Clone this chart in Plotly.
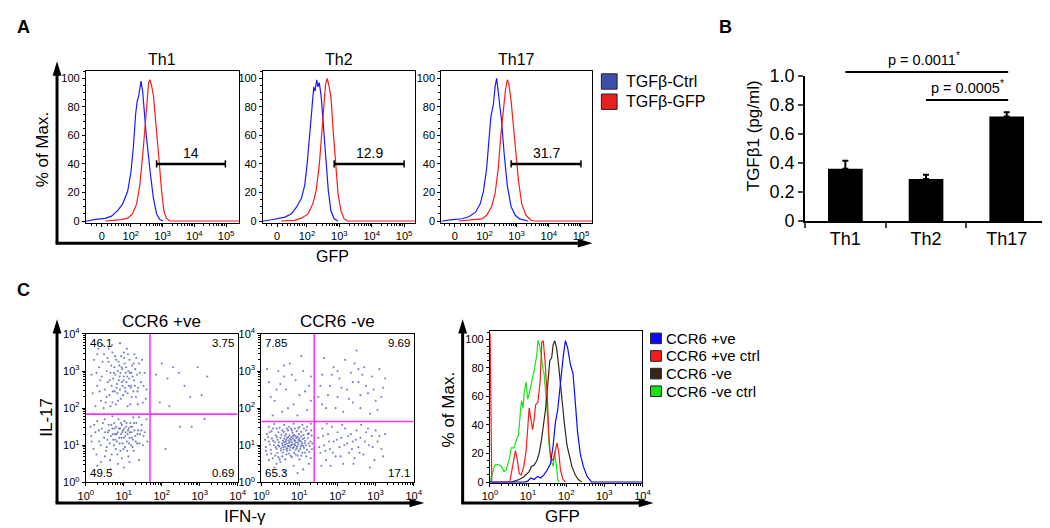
import numpy as np
import plotly.graph_objects as go

W, H = 1050, 528
FONT = "Liberation Sans, Arial, sans-serif"

# ---------------- Panel A: GFP histograms (x = decades on logicle display, y = % of max) ----------------
th1_ctrl_x = [0.58, 0.63, 0.88, 1.19, 1.39, 1.59, 1.74, 1.90, 2.00, 2.08, 2.15, 2.20, 2.25, 2.28, 2.32, 2.37, 2.41, 2.49, 2.61, 2.71, 2.81, 2.91, 3.02]
th1_ctrl_y = [0, 0, 1.1, 1.8, 3.4, 7.4, 12, 21, 34, 52, 75, 84, 88, 94, 98, 91, 80, 59, 34, 16, 5, 1.1, 0]
th1_gfp_x = [1.20, 1.70, 1.90, 2.05, 2.18, 2.28, 2.38, 2.46, 2.51, 2.56, 2.60, 2.65, 2.71, 2.79, 2.88, 2.96, 3.04, 3.12, 3.22, 5.41]
th1_gfp_y = [0, 1, 2, 5, 12, 25, 48, 70, 88, 97, 99, 95, 88, 70, 45, 23, 7, 2, 0, 0]

th2_ctrl_x = [0.64, 0.66, 0.91, 1.32, 1.52, 1.67, 1.83, 1.93, 2.01, 2.08, 2.15, 2.21, 2.25, 2.30, 2.34, 2.38, 2.44, 2.52, 2.59, 2.66, 2.74, 2.84, 2.96]
th2_ctrl_y = [0, 0, 0.9, 2.7, 5, 9.5, 16, 25, 41, 60, 80, 94, 91, 99, 94, 97, 87, 64, 41, 21, 7, 1.6, 0]
th2_gfp_x = [1.20, 1.62, 1.83, 2.03, 2.18, 2.28, 2.38, 2.46, 2.52, 2.57, 2.62, 2.67, 2.74, 2.82, 2.89, 2.96, 3.05, 3.15, 3.25, 5.34]
th2_gfp_y = [0, 0.5, 2, 5, 12, 21, 39, 60, 80, 95, 100, 96, 87, 60, 37, 19, 7, 1.5, 0, 0]

th17_ctrl_x = [0.66, 0.69, 1.00, 1.31, 1.51, 1.72, 1.87, 1.97, 2.07, 2.14, 2.20, 2.28, 2.33, 2.38, 2.43, 2.48, 2.53, 2.61, 2.71, 2.83, 2.96, 3.09, 3.35]
th17_ctrl_y = [0, 0, 1, 1.6, 3, 6, 12, 21, 37, 55, 73, 82, 94, 100, 91, 82, 71, 48, 25, 10, 4, 1.5, 0]
th17_gfp_x = [1.20, 1.72, 1.92, 2.07, 2.22, 2.33, 2.43, 2.51, 2.58, 2.65, 2.71, 2.76, 2.83, 2.92, 2.99, 3.06, 3.16, 3.29, 3.45, 3.55, 5.35]
th17_gfp_y = [0, 1, 1.5, 4, 10, 19, 37, 60, 78, 91, 99, 96, 84, 64, 46, 28, 12, 4, 0.5, 0, 0]

subsets = ["Th1", "Th2", "Th17"]
gate_start = [2.81, 2.84, 2.83]
gate_end = [4.98, 5.00, 5.00]
gate_pct = ["14", "12.9", "31.7"]
gate_level = 40

# ---------------- Panel B: TGFb1 ELISA ----------------
tgfb1_mean = [0.36, 0.29, 0.72]
tgfb1_err = [0.055, 0.028, 0.028]
sig_from = [0, 1]
sig_to = [2, 2]
sig_text = ["p = 0.0011", "p = 0.0005"]
sig_height = [1.025, 0.833]

# ---------------- Panel C: IL-17 vs IFN-g dot plots (log10 units) ----------------
pos_ul = [(0.15,2.9),(0.22,3.3),(0.3,2.6),(0.35,3.1),(0.4,2.2),(0.42,2.85),(0.48,3.45),(0.5,2.5),(0.55,3.0),(0.58,2.7),
          (0.6,3.25),(0.62,2.35),(0.65,2.95),(0.68,2.6),(0.7,3.5),(0.72,2.8),(0.75,3.1),(0.76,2.45),(0.78,2.9),(0.8,3.3),
          (0.82,2.65),(0.84,3.0),(0.85,2.2),(0.87,2.75),(0.88,3.15),(0.9,2.5),(0.91,2.95),(0.93,3.4),(0.95,2.7),(0.96,3.05),
          (0.98,2.35),(1.0,2.85),(1.02,3.2),(1.03,2.55),(1.05,2.95),(1.07,2.7),(1.08,3.6),(1.1,2.4),(1.12,3.0),(1.14,2.8),
          (1.15,3.3),(1.17,2.1),(1.19,2.6),(1.2,2.95),(1.22,3.15),(1.25,2.45),(1.27,2.75),(1.3,3.05),(1.32,2.3),(1.35,2.9),
          (1.38,2.55),(1.4,3.2),(1.45,2.7),(1.5,2.15),(1.55,2.95),(1.6,2.5),(0.25,2.05),(0.45,3.7),(0.65,2.05),(0.9,3.75),
          (1.1,2.05),(0.55,2.3),(0.3,3.45),(0.7,2.15),(1.0,3.5),(1.28,3.45),(0.6,3.6),(1.18,2.55),(0.83,2.4),(0.97,2.6),
          (0.18,2.4),(0.28,2.95),(0.33,3.6),(0.38,2.75),(0.44,3.25),(0.52,2.15),(0.57,3.35),(0.63,2.75),(0.67,3.15),(0.71,2.45),
          (0.74,2.95),(0.77,3.4),(0.81,2.55),(0.86,3.25),(0.89,2.85),(0.92,2.25),(0.94,3.1),(0.99,2.75),(1.01,3.35),(1.04,2.45),
          (1.06,3.1),(1.09,2.85),(1.11,3.45),(1.13,2.6),(1.16,2.95),(1.21,2.3),(1.23,2.85),(1.26,3.2),(1.29,2.6),(1.33,3.35),
          (1.36,2.45),(1.42,2.95),(1.48,3.3),(1.52,2.6),(1.58,2.25),(0.47,2.0),(0.79,2.1),(1.37,2.1),(0.36,2.45),(0.69,3.7)]
pos_ur = [(1.85,2.9),(2.0,3.2),(2.15,2.8),(2.3,3.1),(2.45,2.95),(2.6,2.6),(2.75,2.3),(2.95,3.1),(3.05,2.35),(1.95,2.15),
          (2.2,2.05),(3.2,2.85)]
pos_ll = [(0.12,1.5),(0.2,0.9),(0.25,1.35),(0.3,1.65),(0.35,1.1),(0.4,0.55),(0.42,1.45),(0.48,1.2),(0.5,1.7),(0.55,0.95),
          (0.58,1.35),(0.6,1.55),(0.63,1.05),(0.66,1.25),(0.68,0.75),(0.7,1.45),(0.72,1.15),(0.75,1.6),(0.77,1.3),(0.79,0.9),
          (0.8,1.5),(0.82,1.1),(0.84,1.35),(0.86,1.7),(0.88,1.2),(0.9,1.45),(0.91,0.85),(0.93,1.3),(0.95,1.55),(0.97,1.05),
          (0.98,1.4),(1.0,1.2),(1.02,1.65),(1.03,0.95),(1.05,1.35),(1.06,1.5),(1.08,1.1),(1.1,1.3),(1.12,0.7),(1.13,1.45),
          (1.15,1.2),(1.17,1.6),(1.19,1.0),(1.2,1.35),(1.22,1.5),(1.24,1.15),(1.26,0.85),(1.28,1.4),(1.3,1.25),(1.33,1.6),
          (1.35,1.05),(1.38,1.4),(1.4,0.6),(1.43,1.3),(1.47,1.55),(1.5,1.0),(1.55,1.35),(1.6,1.7),(0.85,0.5),(1.0,0.4),
          (0.65,0.35),(1.15,0.55),(0.5,0.7),(0.95,0.65),(0.3,0.45),(1.25,1.75),(0.7,1.78),(1.4,1.75),(0.15,1.1),(1.62,1.1),
          (0.14,1.25),(0.22,1.55),(0.28,0.75),(0.34,1.4),(0.39,1.0),(0.45,1.6),(0.5,1.35),(0.53,0.85),(0.57,1.15),(0.61,1.4),
          (0.64,0.6),(0.67,1.55),(0.71,1.3),(0.74,1.0),(0.76,1.45),(0.78,1.15),(0.81,1.3),(0.83,0.75),(0.87,1.45),(0.89,1.05),
          (0.92,1.6),(0.94,1.2),(0.96,1.35),(0.99,0.9),(1.01,1.45),(1.04,1.25),(1.07,1.6),(1.09,0.85),(1.11,1.4),(1.14,1.05),
          (1.16,1.35),(1.18,1.5),(1.21,1.2),(1.23,0.95),(1.27,1.6),(1.31,1.1),(1.36,1.3),(1.41,1.05),(1.46,1.4),(1.52,1.25)]
pos_lr = [(2.48,1.5),(2.79,1.5),(3.13,1.71),(2.1,0.9)]

neg_ul = [(0.2,2.7),(0.35,2.2),(0.45,3.0),(0.55,1.9),(0.65,2.5),(0.75,3.2),(0.85,2.1),(0.9,2.75),(1.0,2.35),(1.1,3.0),
          (1.2,1.95),(1.25,2.6),(0.3,1.8),(0.6,2.85),(0.95,1.8),(1.3,2.2),(0.4,2.5),(1.05,3.4),
          (0.25,2.3),(0.5,2.65),(0.7,2.0),(0.8,2.9),(1.15,2.45),(0.15,3.05),(0.6,3.15),(1.3,2.85)]
neg_ur = [(1.5,2.3),(1.6,2.9),(1.7,2.0),(1.8,2.6),(1.9,3.1),(2.0,2.3),(2.05,2.8),(2.15,1.9),(2.2,3.3),(2.25,2.5),
          (2.35,2.95),(2.4,2.15),(2.5,3.55),(2.55,2.7),(2.6,2.0),(2.7,3.1),(2.8,2.4),(2.9,2.85),(3.0,2.2),(3.1,3.05),
          (3.2,2.55),(1.65,3.35),(2.45,3.2),(2.85,1.85),(1.95,2.0),(3.05,1.95),
          (1.55,2.6),(1.75,2.35),(1.85,2.9),(2.1,2.55),(2.3,2.25),(2.4,2.7),(2.6,2.35),(2.65,2.9),(2.75,2.6),(2.95,2.5),
          (3.15,2.3),(3.25,2.8),(2.0,3.0),(2.55,3.05),(1.6,2.1)]
neg_ll = [(0.35,0.4),(0.6,0.3),(0.85,0.45),(1.1,0.35),(0.5,0.55),(0.95,0.25),(1.25,0.5),(0.2,0.6),
          (0.15,0.75),(0.3,0.65),(0.42,0.8),(0.55,0.7),(0.63,0.62),(0.72,0.78),(0.8,0.68),(0.9,0.75),(1.0,0.62),(1.08,0.8),
          (1.18,0.7),(1.3,0.65),(0.48,0.62),(0.68,0.85),(0.98,0.85),
          (0.12,0.95),(0.25,0.88),(0.33,1.0),(0.4,0.9),(0.47,0.97),(0.52,0.86),(0.58,0.95),(0.62,1.02),(0.66,0.9),(0.7,0.98),
          (0.75,0.87),(0.78,1.0),(0.83,0.92),(0.87,1.03),(0.9,0.88),(0.94,0.97),(1.02,0.9),(1.06,1.0),(1.12,0.93),(1.2,0.88),
          (1.27,0.98),(1.33,0.9),(0.55,1.05),(0.73,1.06),(0.96,1.07),
          (0.1,1.15),(0.2,1.1),(0.28,1.18),(0.36,1.08),(0.43,1.15),(0.5,1.2),(0.57,1.12),(0.6,1.18),(0.64,1.1),(0.68,1.2),
          (0.71,1.13),(0.76,1.17),(0.8,1.08),(0.84,1.19),(0.88,1.12),(0.92,1.2),(0.97,1.14),(1.0,1.18),(1.04,1.1),(1.09,1.17),
          (1.15,1.12),(1.22,1.19),(1.29,1.1),(0.46,1.08),(0.79,1.22),(1.13,1.2),
          (0.15,1.3),(0.27,1.38),(0.38,1.27),(0.45,1.35),(0.53,1.28),(0.59,1.36),(0.65,1.3),(0.7,1.4),(0.74,1.27),(0.82,1.34),
          (0.86,1.28),(0.93,1.38),(0.99,1.3),(1.05,1.36),(1.11,1.28),(1.18,1.4),(1.25,1.32),(1.32,1.26),(0.62,1.25),(0.9,1.25),
          (0.2,1.5),(0.34,1.57),(0.48,1.47),(0.6,1.55),(0.72,1.5),(0.85,1.58),(0.97,1.46),(1.08,1.55),(1.2,1.5),(1.3,1.58),
          (0.4,1.45),(0.78,1.45),
          (0.52,0.92),(0.56,1.0),(0.59,0.88),(0.61,1.08),(0.63,0.96),(0.65,1.15),(0.67,1.04),(0.69,0.92),(0.71,1.22),(0.73,0.98),
          (0.75,1.1),(0.77,0.94),(0.79,1.15),(0.81,1.02),(0.83,1.25),(0.85,0.95),(0.87,1.14),(0.89,1.0),(0.91,1.08),(0.93,0.92),
          (0.95,1.22),(0.98,1.02),(1.01,1.12),(1.03,0.96),(1.05,1.24),(1.07,1.05),(1.1,0.98),(1.14,1.06),(1.17,1.0),(1.24,1.05),
          (0.44,1.0),(0.41,1.22),(0.38,0.95),(0.31,1.12),(0.23,1.02),(0.18,1.22),(0.26,0.78),(0.37,0.72),(0.45,0.68),(0.57,0.8),
          (0.66,0.75),(0.77,0.72),(0.86,0.8),(0.95,0.72),(1.05,0.72),(1.15,0.8),(1.26,0.82),(1.34,1.05),(1.31,1.4),(1.22,1.3),
          (0.55,1.4),(0.67,1.45),(0.8,1.4),(0.88,1.45),(1.0,1.5),(1.12,1.45),(0.31,1.45),(0.22,1.35),(0.12,0.85),(0.4,0.5)]
neg_lr = [(1.5,1.2),(1.55,0.8),(1.6,1.45),(1.65,1.0),(1.7,0.6),(1.75,1.3),(1.8,0.9),(1.85,1.5),(1.9,1.1),(1.95,0.7),
          (2.0,1.35),(2.05,0.95),(2.1,1.2),(2.15,0.5),(2.2,1.45),(2.25,1.05),(2.3,0.8),(2.35,1.3),(2.4,1.1),(2.45,0.65),
          (2.5,1.4),(2.55,0.95),(2.6,1.2),(2.68,0.75),(2.75,1.35),(2.82,1.0),(2.9,1.25),(2.97,0.6),(3.05,1.1),(3.15,0.9),
          (3.25,1.3),(1.58,0.45),(2.12,1.55),(2.62,1.55),(1.72,1.58),(2.85,0.4),
          (1.52,0.95),(1.62,1.25),(1.68,0.85),(1.78,1.1),(1.88,0.8),(1.98,1.15),(2.08,0.7),(2.18,1.0),(2.28,1.25),(2.38,0.9),
          (2.48,1.15),(2.58,0.8),(2.72,1.1),(2.8,1.45),(2.92,0.95),(3.0,1.4),(3.1,1.25),(3.2,0.7),(1.82,0.45),(2.42,0.5)]

gate_pos = (1.69, 1.84)   # IFN-g, IL-17 gate (log10)
gate_neg = (1.39, 1.64)
quad_pos = ["46.1", "3.75", "49.5", "0.69"]   # UL, UR, LL, LR
quad_neg = ["7.85", "9.69", "65.3", "17.1"]

# ---------------- Panel C: GFP histograms of sorted cells (log10 GFP) ----------------
ccr6_pos_x = [0, 0.9, 0.99, 1.075, 1.16, 1.25, 1.33, 1.42, 1.505, 1.59, 1.66, 1.72, 1.78, 1.85, 1.92, 1.98, 2.04, 2.11, 2.18, 2.24, 2.30, 2.37, 2.45, 2.55, 2.67, 4]
ccr6_pos_y = [0, 0, 0.7, 2.9, 1.8, 4, 2.9, 5.2, 8.5, 13, 26, 42, 51, 71, 87, 99, 94, 82.5, 76, 56, 35, 20, 11, 4, 0, 0]
ccr6_pos_ctrl_x = [0.005, 0.02, 0.05, 0.52, 0.56, 0.63, 0.67, 0.71, 0.77, 0.82, 0.89, 0.95, 0.99, 1.03, 1.075, 1.12, 1.16, 1.20, 1.26, 1.32, 1.36, 1.40, 1.445, 1.505, 1.55, 1.59, 1.66, 1.72, 1.76, 1.81, 1.85, 1.92, 1.98]
ccr6_pos_ctrl_y = [104, 50, 0, 0, 6, 15, 22, 17, 6, 5, 11, 22, 35, 52, 44, 36.5, 44, 54, 56, 71, 98, 99, 85, 60, 31, 17.5, 15, 24, 27.5, 20, 8.5, 1.8, 0]
ccr6_neg_x = [0.56, 0.645, 0.77, 0.90, 0.97, 1.03, 1.09, 1.16, 1.23, 1.29, 1.35, 1.42, 1.46, 1.52, 1.57, 1.62, 1.66, 1.70, 1.75, 1.79, 1.83, 1.89, 1.95, 2.02, 2.09, 2.15, 2.24, 2.32, 2.41]
ccr6_neg_y = [0, 0.7, 1.8, 4, 6, 7.4, 11, 12, 15, 20, 29, 42, 51, 69, 85, 87, 96, 99, 94, 85, 73.5, 56, 42, 26, 17.5, 11, 5, 1.8, 0]
ccr6_neg_ctrl_x = [0.01, 0.03, 0.13, 0.215, 0.30, 0.37, 0.43, 0.52, 0.56, 0.63, 0.69, 0.75, 0.80, 0.83, 0.87, 0.90, 0.95, 0.99, 1.03, 1.09, 1.16, 1.23, 1.26, 1.30, 1.35, 1.385, 1.42, 1.505, 1.55, 1.61, 1.66, 1.70, 1.74, 1.78, 1.82]
ccr6_neg_ctrl_y = [0, 3, 12, 12.5, 11, 7.4, 8.5, 17.5, 24, 24, 29, 33, 49, 57, 52, 63, 70, 58, 62, 69, 78, 89, 99, 96, 89, 80, 76, 49, 26.5, 15, 11, 22, 12, 2, 0]


# ---------------- helpers (pixel -> paper) ----------------
def px(x):
    return x / W


def py(y):
    return 1 - y / H


def xdom(a, b):
    return [a / W, b / W]


def ydom(top, bottom):
    return [1 - bottom / H, 1 - top / H]


tickfont = dict(family=FONT, size=11, color="black")
axis_base = dict(showline=True, linecolor="black", linewidth=1, mirror=True, showgrid=False,
                 zeroline=False, ticks="outside", ticklen=3, tickcolor="black", tickfont=tickfont)
sup = lambda k: "10<sup>%d</sup>" % k
log_minor = [k + np.log10(m) for k in range(0, 5) for m in range(2, 10)]

fig = go.Figure()
layout = {}
annotations = []
shapes = []


def txt(x, y, s, size, **kw):
    d = dict(x=px(x), y=py(y), xref="paper", yref="paper", text=s, showarrow=False,
             font=dict(family=FONT, size=size, color="black"), xanchor="center", yanchor="middle")
    d.update(kw)
    annotations.append(d)


def arrow_axes(x0, y0, ytip, xtip):
    # thick L-shaped axis with arrow heads
    shapes.append(dict(type="line", xref="paper", yref="paper", x0=px(x0), y0=py(y0), x1=px(x0), y1=py(ytip + 12),
                       line=dict(color="black", width=3)))
    shapes.append(dict(type="line", xref="paper", yref="paper", x0=px(x0 - 1.5), y0=py(y0), x1=px(xtip - 12), y1=py(y0),
                       line=dict(color="black", width=3)))
    shapes.append(dict(type="path", xref="paper", yref="paper", fillcolor="black", line=dict(width=0),
                       path=f"M {px(x0)},{py(ytip)} L {px(x0 - 4.5)},{py(ytip + 15)} L {px(x0 + 4.5)},{py(ytip + 15)} Z"))
    shapes.append(dict(type="path", xref="paper", yref="paper", fillcolor="black", line=dict(width=0),
                       path=f"M {px(xtip)},{py(y0)} L {px(xtip - 15)},{py(y0 - 4.5)} L {px(xtip - 15)},{py(y0 + 4.5)} Z"))


# ---------------- Panel A ----------------
hist_a = [
    (th1_ctrl_x, th1_ctrl_y, th1_gfp_x, th1_gfp_y, (71, 226.7), (0.58, 5.41)),
    (th2_ctrl_x, th2_ctrl_y, th2_gfp_x, th2_gfp_y, (251, 405.7), (0.64, 5.34)),
    (th17_ctrl_x, th17_ctrl_y, th17_gfp_x, th17_gfp_y, (432.3, 585.7), (0.66, 5.35)),
]
a_minor = [0.75, 0.9, 1.25, 1.4, 1.5, 1.6, 1.7, 1.78, 1.85, 1.92] + [v for v in log_minor if 2 < v < 5]
for i, (cx, cy, gx, gy, (l, r), xr) in enumerate(hist_a):
    n = i + 1
    xa, ya = f"x{n}", f"y{n}"
    fig.add_trace(go.Scatter(x=cx, y=cy, mode="lines", line=dict(color="#1a1aff", width=1.2),
                             xaxis=xa, yaxis=ya, showlegend=False, hoverinfo="skip"))
    fig.add_trace(go.Scatter(x=gx, y=gy, mode="lines", line=dict(color="#ff1a1a", width=1.2),
                             xaxis=xa, yaxis=ya, showlegend=False, hoverinfo="skip"))
    # gate bar
    fig.add_trace(go.Scatter(x=[gate_start[i], gate_end[i]], y=[gate_level, gate_level], mode="lines",
                             line=dict(color="black", width=2.5), xaxis=xa, yaxis=ya, showlegend=False))
    for gx_end in (gate_start[i], gate_end[i]):
        fig.add_trace(go.Scatter(x=[gx_end, gx_end], y=[gate_level - 2.5, gate_level + 2.5], mode="lines",
                                 line=dict(color="black", width=1.5), xaxis=xa, yaxis=ya, showlegend=False))
    annotations.append(dict(x=(gate_start[i] + gate_end[i]) / 2, y=gate_level, xref=xa, yref=ya, text=gate_pct[i],
                            showarrow=False, yanchor="bottom", yshift=1,
                            font=dict(family=FONT, size=14, color="black")))
    layout[f"xaxis{n}"] = dict(axis_base, domain=xdom(l, r), range=list(xr), anchor=ya,
                               tickmode="array", tickvals=[1.08, 2, 3, 4, 5],
                               ticktext=["0", sup(2), sup(3), sup(4), sup(5)],
                               minor=dict(tickmode="array", tickvals=a_minor, ticks="outside", ticklen=2, tickcolor="black"))
    layout[f"yaxis{n}"] = dict(axis_base, domain=ydom(55, 213), range=[-1.35, 105.2], anchor=xa,
                               tickmode="array", tickvals=[0, 20, 40, 60, 80, 100],
                               minor=dict(dtick=5, ticks="outside", ticklen=2, tickcolor="black"))
    txt((l + r) / 2, 43, subsets[i], 16)

arrow_axes(41.7, 234, 45, 586)
txt(8, 9, "<b>A</b>", 18)
txt(27, 137, "% of Max.", 17, textangle=-90)
txt(322, 248, "GFP", 16)
for j, (lab, col) in enumerate([("TGFβ-Ctrl", "#3c50aa"), ("TGFβ-GFP", "#e62020")]):
    y0 = 58 + j * 21
    shapes.append(dict(type="rect", xref="paper", yref="paper", x0=px(595), x1=px(611), y0=py(y0 + 16), y1=py(y0),
                       fillcolor=col, line=dict(color="#222", width=1)))
    txt(618, y0 + 8, lab, 16, xanchor="left")

# ---------------- Panel B ----------------
fig.add_trace(go.Bar(x=subsets, y=tgfb1_mean, width=0.43, marker=dict(color="black", line=dict(width=0)),
                     error_y=dict(type="data", array=tgfb1_err, arrayminus=[0, 0, 0], symmetric=False,
                                  color="black", thickness=2, width=3),
                     xaxis="x4", yaxis="y4", showlegend=False))
b_left, b_right, b_top, b_bot = 802, 1048, 60, 211
layout["xaxis4"] = dict(domain=xdom(b_left, b_right), anchor="y4", showline=True, linecolor="black", linewidth=2,
                        ticks="outside", ticklen=5, tickwidth=2, tickson="boundaries", showgrid=False,
                        range=[-0.5, 2.5], tickfont=dict(family=FONT, size=18, color="black"))
layout["yaxis4"] = dict(domain=ydom(b_top, b_bot), anchor="x4", range=[0, 1.0], showline=True, linecolor="black",
                        linewidth=2, ticks="outside", ticklen=5, tickwidth=2, showgrid=False, zeroline=False,
                        tickmode="array", tickvals=[0, 0.2, 0.4, 0.6, 0.8, 1.0],
                        ticktext=["0", "0.2", "0.4", "0.6", "0.8", "1.0"],
                        tickfont=dict(family=FONT, size=18, color="black"))
cat_w = (b_right - b_left) / len(subsets)
for a, b, t, h in zip(sig_from, sig_to, sig_text, sig_height):
    yl = b_bot - h * (b_bot - b_top)
    xa_ = b_left + (a + 0.5) * cat_w
    xb_ = b_left + (b + 0.5) * cat_w + 1.5
    shapes.append(dict(type="line", xref="paper", yref="paper", x0=px(xa_), x1=px(xb_), y0=py(yl), y1=py(yl),
                       line=dict(color="black", width=2)))
    txt((xa_ + xb_) / 2 - 3 if a == 0 else (xa_ + xb_) / 2, yl - 2, t + "<sup>*</sup>", 14.5, yanchor="bottom")
txt(721, 9, "<b>B</b>", 18)
txt(750, 122, "TGFβ1 (pg/ml)", 17, textangle=-90)

# ---------------- Panel C: dot plots ----------------
dot_panels = [
    (5, (pos_ul, pos_ur, pos_ll, pos_lr), gate_pos, quad_pos, (71, 225.3), "CCR6 +ve"),
    (6, (neg_ul, neg_ur, neg_ll, neg_lr), gate_neg, quad_neg, (249.3, 404.3), "CCR6 -ve"),
]
s_minor = [v for v in log_minor if v < 4]
for n, quads, (gx, gy), qlab, (l, r), title in dot_panels:
    xa, ya = f"x{n}", f"y{n}"
    pts = [p for q in quads for p in q]
    fig.add_trace(go.Scatter(x=[p[0] for p in pts], y=[p[1] for p in pts], mode="markers",
                             marker=dict(size=2.1, color="rgba(60,75,175,0.7)", line=dict(width=0)),
                             xaxis=xa, yaxis=ya, showlegend=False, hoverinfo="skip"))
    fig.add_trace(go.Scatter(x=[gx, gx], y=[0, 4], mode="lines", line=dict(color="#ff33ff", width=1.6),
                             xaxis=xa, yaxis=ya, showlegend=False))
    fig.add_trace(go.Scatter(x=[0, 4], y=[gy, gy], mode="lines", line=dict(color="#ff33ff", width=1.6),
                             xaxis=xa, yaxis=ya, showlegend=False))
    qpos = [(0.05, 3.96, "left", "top"), (3.95, 3.96, "right", "top"),
            (0.05, 0.04, "left", "bottom"), (3.95, 0.04, "right", "bottom")]
    for (qx, qy, xan, yan), s in zip(qpos, qlab):
        annotations.append(dict(x=qx, y=qy, xref=xa, yref=ya, text=s, showarrow=False, xanchor=xan, yanchor=yan,
                                font=dict(family=FONT, size=11.5, color="black")))
    common = dict(axis_base, range=[0, 4], tickmode="array", tickvals=[0, 1, 2, 3, 4],
                  ticktext=[sup(k) for k in range(5)],
                  minor=dict(tickmode="array", tickvals=s_minor, ticks="outside", ticklen=2, tickcolor="black"))
    layout[f"xaxis{n}"] = dict(common, domain=xdom(l, r), anchor=ya)
    layout[f"yaxis{n}"] = dict(common, domain=ydom(328.3, 482.7), anchor=xa)
    txt((l + r) / 2, 315, title, 17)

arrow_axes(41.7, 504, 313, 415)
txt(8, 283, "<b>C</b>", 18)
txt(31, 415, "IL-17", 17, textangle=-90)
txt(233, 518, "IFN-γ", 17)

# ---------------- Panel C: GFP histogram ----------------
c_series = [
    ("CCR6 +ve", ccr6_pos_x, ccr6_pos_y, "#0a0aff"),
    ("CCR6 +ve ctrl", ccr6_pos_ctrl_x, ccr6_pos_ctrl_y, "#ff1a1a"),
    ("CCR6 -ve", ccr6_neg_x, ccr6_neg_y, "#3a2414"),
    ("CCR6 -ve ctrl", ccr6_neg_ctrl_x, ccr6_neg_ctrl_y, "#14e614"),
]
for name, x, y, col in [c_series[3], c_series[2], c_series[1], c_series[0]]:
    fig.add_trace(go.Scatter(x=x, y=y, mode="lines", line=dict(color=col, width=1.2),
                             xaxis="x7", yaxis="y7", showlegend=False, hoverinfo="skip"))
layout["xaxis7"] = dict(axis_base, domain=xdom(481.7, 636.7), anchor="y7", range=[0, 4], tickmode="array",
                        tickvals=[0, 1, 2, 3, 4], ticktext=[sup(k) for k in range(5)],
                        minor=dict(tickmode="array", tickvals=s_minor, ticks="outside", ticklen=2, tickcolor="black"))
layout["yaxis7"] = dict(axis_base, domain=ydom(325, 483), anchor="x7", range=[-0.4, 106], tickmode="array",
                        tickvals=[0, 20, 40, 60, 80, 100],
                        minor=dict(dtick=5, ticks="outside", ticklen=2, tickcolor="black"))
arrow_axes(454, 504, 313, 648)
txt(440, 407, "% of Max.", 17, textangle=-90)
txt(555, 518, "GFP", 17)
for j, (name, _, _, col) in enumerate(c_series):
    yc = 333 + j * 18.3
    shapes.append(dict(type="rect", xref="paper", yref="paper", x0=px(645), x1=px(656), y0=py(yc + 5.5),
                       y1=py(yc - 5.5), fillcolor=col, line=dict(color="#222", width=1)))
    txt(659, yc, name, 15, xanchor="left")

fig.update_layout(
    width=W, height=H, autosize=False,
    margin=dict(l=0, r=0, t=0, b=0),
    paper_bgcolor="white", plot_bgcolor="white",
    font=dict(family=FONT, color="black"),
    annotations=annotations, shapes=shapes,
    **layout,
)
fig.write_html("out.html")
